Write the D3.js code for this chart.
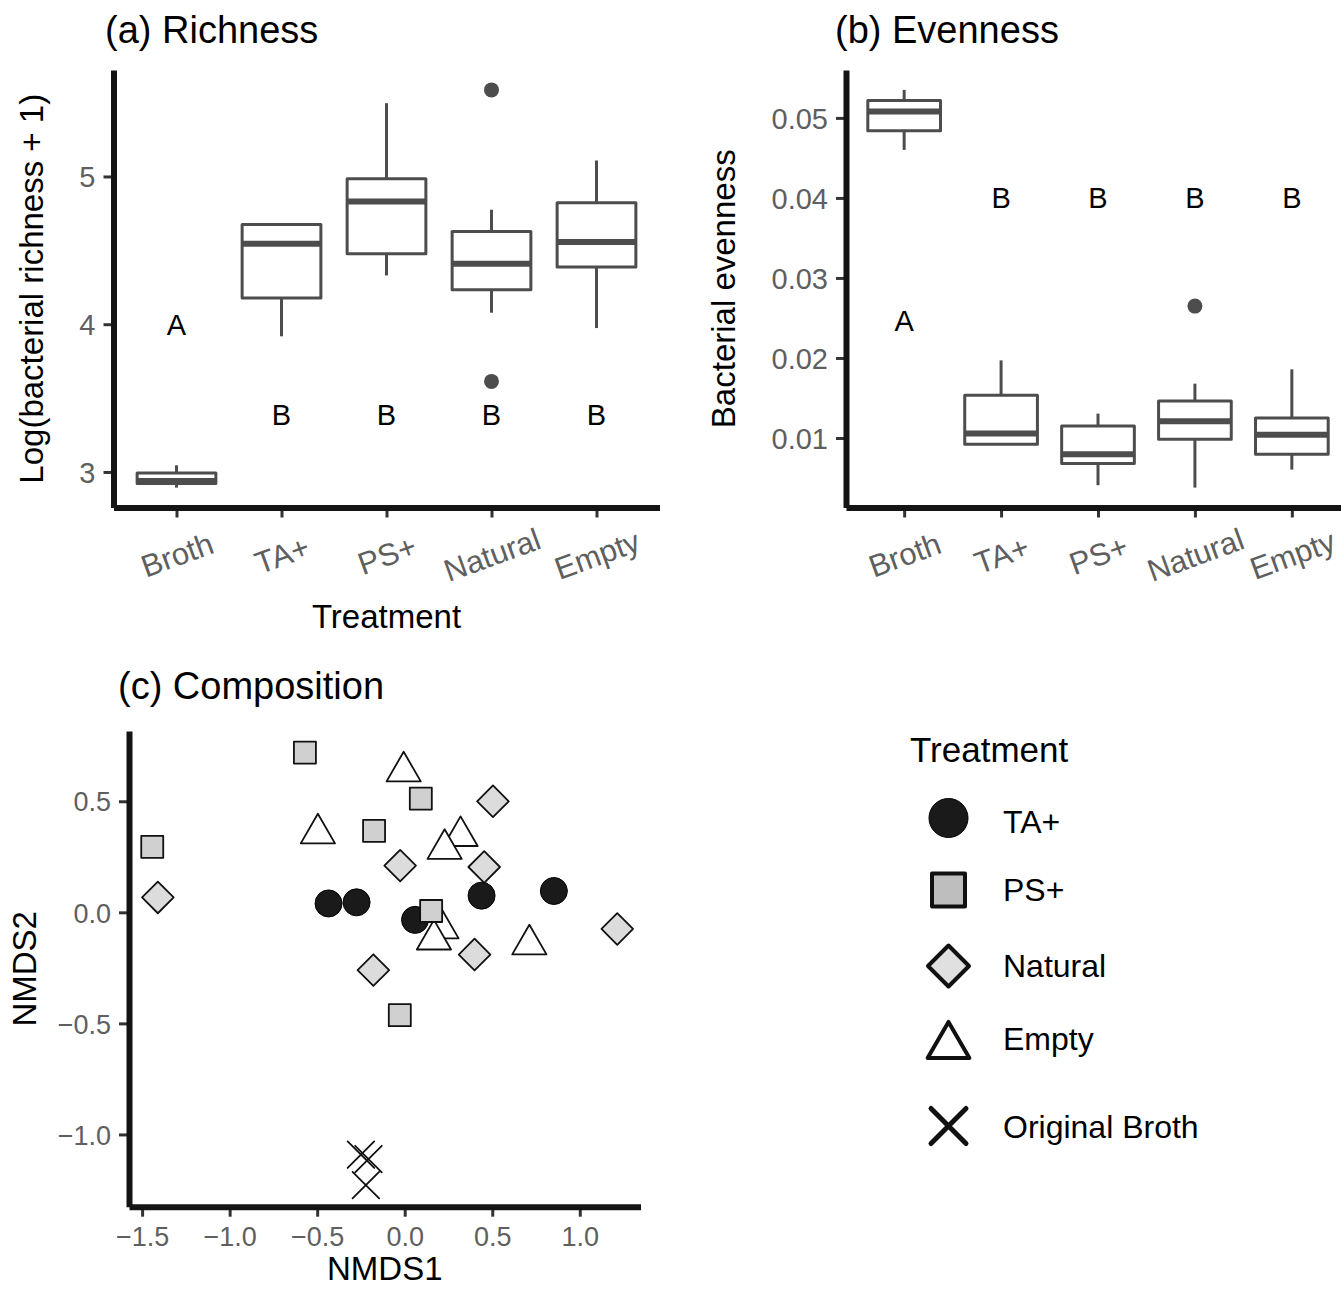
<!DOCTYPE html>
<html><head><meta charset="utf-8">
<script src="https://cdn.jsdelivr.net/npm/d3@7"></script>
<style>
body{margin:0;background:#fff}
svg{display:block}
text{font-family:"Liberation Sans",Arial,Helvetica,sans-serif}
</style>
</head><body><svg id="c" width="1341" height="1289"></svg>
<script>
// ---------- DATA ----------
const treatments = ["Broth", "TA+", "PS+", "Natural", "Empty"];

// (a) Richness: Log(bacterial richness + 1)
const richMin = [2.894, 3.918, 4.330, 4.078, 3.974];
const richQ1  = [2.921, 4.177, 4.477, 4.233, 4.387];
const richMed = [2.939, 4.545, 4.831, 4.409, 4.556];
const richQ3  = [2.993, 4.675, 4.984, 4.628, 4.822];
const richMax = [3.045, 4.675, 5.496, 4.775, 5.108];
const richOutliers = [[], [], [], [5.586, 3.613], []];
const richLetters = ["A", "B", "B", "B", "B"];
const richLetterY = [4.0, 3.39, 3.39, 3.39, 3.39];
const richTicks = [3, 4, 5];

// (b) Evenness
const evenMin = [0.0460, 0.00921, 0.0041, 0.0038, 0.00605];
const evenQ1  = [0.0484, 0.00921, 0.0068, 0.00984, 0.00797];
const evenMed = [0.0508, 0.01055, 0.00797, 0.01208, 0.01042];
const evenQ3  = [0.05216, 0.01533, 0.0115, 0.01462, 0.0125];
const evenMax = [0.0535, 0.0197, 0.01305, 0.01679, 0.01858];
const evenOutliers = [[], [], [], [0.02648], []];
const evenLetters = ["A", "B", "B", "B", "B"];
const evenLetterY = [0.0247, 0.04, 0.04, 0.04, 0.04];
const evenTicks = [0.01, 0.02, 0.03, 0.04, 0.05];

// (c) Composition (NMDS)
const groups = ["TA+", "PS+", "Natural", "Empty", "Original Broth"];
const taX = [-0.435, -0.275, 0.059, 0.439, 0.852];
const taY = [0.040, 0.045, -0.034, 0.075, 0.096];
const psX = [-0.570, 0.092, -0.175, -1.442, 0.151, -0.028];
const psY = [0.719, 0.512, 0.367, 0.295, 0.006, -0.463];
const natX = [0.504, -0.026, 0.454, -1.410, 1.214, 0.399, -0.179];
const natY = [0.500, 0.210, 0.204, 0.067, -0.075, -0.190, -0.260];
const empX = [-0.006, -0.496, 0.319, 0.228, 0.210, 0.167, 0.712];
const empY = [0.634, 0.355, 0.343, 0.285, -0.073, -0.123, -0.145];
const brothX = [-0.250, -0.207, -0.222];
const brothY = [-1.091, -1.111, -1.228];
const nmdsXTicks = [-1.5, -1.0, -0.5, 0.0, 0.5, 1.0];
const nmdsYTicks = [-1.0, -0.5, 0.0, 0.5];

// ---------- STYLE ----------
const AXIS_COL = "#141414", TICK_COL = "#333333", TICKLAB_COL = "#5f5f5f", BOX_COL = "#4d4d4d";
const svg = d3.select("#c");

function expandDomain(vals) {
  const lo = d3.min(vals), hi = d3.max(vals), e = (hi - lo) * 0.05;
  return [lo - e, hi + e];
}

function styleAxis(g, fs) {
  g.selectAll(".tick line").attr("stroke", TICK_COL).attr("stroke-width", 3);
  g.selectAll(".tick text").attr("fill", TICKLAB_COL).style("font-size", fs + "px");
  g.select(".domain").attr("stroke", AXIS_COL).attr("stroke-width", 6).raise();
}

function boxPanel(o) {
  const g = svg.append("g");
  const x = d3.scalePoint().domain(treatments).range([o.x0, o.x1]).padding(0.6);
  const allVals = o.min.concat(o.max, o.outliers.flat());
  const y = d3.scaleLinear().domain(expandDomain(allVals)).range([o.y1, o.y0]);
  const bw = x.step() * 0.75;

  treatments.forEach((t, i) => {
    const cx = x(t);
    g.append("line").attr("x1", cx).attr("x2", cx).attr("y1", y(o.q3[i])).attr("y2", y(o.max[i]))
      .attr("stroke", BOX_COL).attr("stroke-width", 3);
    g.append("line").attr("x1", cx).attr("x2", cx).attr("y1", y(o.q1[i])).attr("y2", y(o.min[i]))
      .attr("stroke", BOX_COL).attr("stroke-width", 3);
    g.append("rect").attr("x", cx - bw / 2).attr("width", bw)
      .attr("y", y(o.q3[i])).attr("height", y(o.q1[i]) - y(o.q3[i]))
      .attr("fill", "#fff").attr("stroke", BOX_COL).attr("stroke-width", 3).attr("stroke-linejoin", "round");
    g.append("line").attr("x1", cx - bw / 2).attr("x2", cx + bw / 2)
      .attr("y1", y(o.med[i])).attr("y2", y(o.med[i]))
      .attr("stroke", BOX_COL).attr("stroke-width", 6);
    o.outliers[i].forEach(v => {
      g.append("circle").attr("cx", cx).attr("cy", y(v)).attr("r", 7.5).attr("fill", BOX_COL);
    });
    g.append("text").attr("x", cx).attr("y", y(o.letterY[i])).attr("dy", "0.36em")
      .attr("text-anchor", "middle").style("font-size", "29px").attr("fill", "#000").text(o.letters[i]);
  });

  const ya = g.append("g").attr("transform", `translate(${o.x0},0)`)
    .call(d3.axisLeft(y).tickValues(o.ticks).tickFormat(o.fmt).tickSize(10).tickSizeOuter(0).tickPadding(8));
  ya.selectAll(".tick text").attr("dy", "0.36em");
  styleAxis(ya, 29);

  const xa = g.append("g").attr("transform", `translate(0,${o.y1})`)
    .call(d3.axisBottom(x).tickSize(10).tickSizeOuter(0));
  xa.selectAll(".tick text").attr("y", 47).attr("dy", "0.36em").attr("text-anchor", "middle")
    .attr("transform", "rotate(-20,0,47)");
  styleAxis(xa, 31);

  g.append("text").attr("x", o.titleX).attr("y", 42.5).style("font-size", "38px").attr("fill", "#000").text(o.title);
  g.append("text").attr("transform", `translate(${o.yTitleX},${(o.y0 + o.y1) / 2}) rotate(-90)`)
    .attr("text-anchor", "middle").style("font-size", "33px").attr("fill", "#000").text(o.yTitle);
  if (o.xTitle) {
    g.append("text").attr("x", (o.x0 + o.x1) / 2).attr("y", 628).attr("text-anchor", "middle")
      .style("font-size", "33px").attr("fill", "#000").text(o.xTitle);
  }
}

boxPanel({
  x0: 113.5, x1: 659.5, y0: 70, y1: 507.5,
  min: richMin, q1: richQ1, med: richMed, q3: richQ3, max: richMax, outliers: richOutliers,
  letters: richLetters, letterY: richLetterY, ticks: richTicks, fmt: d3.format("d"),
  title: "(a) Richness", titleX: 105, yTitle: "Log(bacterial richness + 1)", yTitleX: 43, xTitle: "Treatment"
});
boxPanel({
  x0: 846, x1: 1350, y0: 70, y1: 507.5,
  min: evenMin, q1: evenQ1, med: evenMed, q3: evenQ3, max: evenMax, outliers: evenOutliers,
  letters: evenLetters, letterY: evenLetterY, ticks: evenTicks, fmt: d3.format(".2f"),
  title: "(b) Evenness", titleX: 835, yTitle: "Bacterial evenness", yTitleX: 735, xTitle: null
});

// ---------- (c) NMDS ----------
const shapes = {
  circle: (g, s) => g.append("circle").attr("r", s.cR).attr("fill", "#1a1a1a").attr("stroke", "#000").attr("stroke-width", 1),
  square: (g, s) => g.append("rect").attr("x", -s.sq).attr("y", -s.sq).attr("width", 2 * s.sq).attr("height", 2 * s.sq)
    .attr("fill", s.sqFill).attr("stroke", "#111").attr("stroke-width", s.sw).attr("stroke-linejoin", "round"),
  diamond: (g, s) => g.append("path").attr("d", `M0,${-s.dm}L${s.dm},0L0,${s.dm}L${-s.dm},0Z`)
    .attr("fill", s.dmFill).attr("stroke", "#111").attr("stroke-width", s.sw).attr("stroke-linejoin", "round"),
  triangle: (g, s) => g.append("path")
    .attr("d", `M0,${-1.555 * s.tr}L${1.347 * s.tr},${0.778 * s.tr}L${-1.347 * s.tr},${0.778 * s.tr}Z`)
    .attr("fill", "#fff").attr("stroke", "#111").attr("stroke-width", s.sw).attr("stroke-linejoin", "round"),
  cross: (g, s) => g.append("path").attr("d", `M${-s.cx},${-s.cx}L${s.cx},${s.cx}M${-s.cx},${s.cx}L${s.cx},${-s.cx}`)
    .attr("fill", "none").attr("stroke", "#111").attr("stroke-width", s.csw).attr("stroke-linecap", "round")
};
const plotSize = { cR: 13.5, sq: 11, dm: 15.8, tr: 12.7, cx: 13.3, sw: 1.8, csw: 1.8, sqFill: "#cfd0cf", dmFill: "#dcdcdc" };
const legSize = { cR: 19.5, sq: 16.5, dm: 20.5, tr: 15.5, cx: 17.5, sw: 4, csw: 5, sqFill: "#bebebe", dmFill: "#e0e0e0" };

const groupData = [
  { name: "TA+", shape: "circle", xs: taX, ys: taY },
  { name: "PS+", shape: "square", xs: psX, ys: psY },
  { name: "Natural", shape: "diamond", xs: natX, ys: natY },
  { name: "Empty", shape: "triangle", xs: empX, ys: empY },
  { name: "Original Broth", shape: "cross", xs: brothX, ys: brothY }
];
const drawOrder = ["circle", "triangle", "square", "diamond", "cross"];

const cx0 = 129, cx1 = 640.5, cy0 = 731, cy1 = 1206.7;
const xs = d3.scaleLinear().domain(expandDomain(groupData.flatMap(d => d.xs))).range([cx0, cx1]);
const ys = d3.scaleLinear().domain(expandDomain(groupData.flatMap(d => d.ys))).range([cy1, cy0]);
const gc = svg.append("g");
drawOrder.forEach(sh => {
  const gd = groupData.find(d => d.shape === sh);
  gd.xs.forEach((vx, i) => {
    const p = gc.append("g").attr("transform", `translate(${xs(vx)},${ys(gd.ys[i])})`);
    shapes[sh](p, plotSize);
  });
});

const xc = gc.append("g").attr("transform", `translate(0,${cy1})`)
  .call(d3.axisBottom(xs).tickValues(nmdsXTicks).tickFormat(d3.format(".1f")).tickSize(10).tickSizeOuter(0).tickPadding(10));
styleAxis(xc, 27);
const yc = gc.append("g").attr("transform", `translate(${cx0},0)`)
  .call(d3.axisLeft(ys).tickValues(nmdsYTicks).tickFormat(d3.format(".1f")).tickSize(10).tickSizeOuter(0).tickPadding(8));
yc.selectAll(".tick text").attr("dy", "0.36em");
styleAxis(yc, 27);

gc.append("text").attr("x", 118).attr("y", 699).style("font-size", "38px").attr("fill", "#000").text("(c) Composition");
gc.append("text").attr("x", (cx0 + cx1) / 2).attr("y", 1280).attr("text-anchor", "middle")
  .style("font-size", "33px").attr("fill", "#000").text("NMDS1");
gc.append("text").attr("transform", `translate(36,${(cy0 + cy1) / 2}) rotate(-90)`).attr("text-anchor", "middle")
  .style("font-size", "33px").attr("fill", "#000").text("NMDS2");

// ---------- Legend ----------
const lg = svg.append("g");
lg.append("text").attr("x", 910).attr("y", 761.7).style("font-size", "35px").attr("fill", "#000").text("Treatment");
const legSymY = [818, 890, 966, 1046, 1126];
const legLabY = [832.7, 901, 976.7, 1050, 1138.3];
groupData.forEach((gd, i) => {
  const p = lg.append("g").attr("transform", `translate(948.5,${legSymY[i]})`);
  shapes[gd.shape](p, legSize);
  lg.append("text").attr("x", 1003).attr("y", legLabY[i]).style("font-size", "32px").attr("fill", "#000").text(gd.name);
});
</script>
</body></html>
